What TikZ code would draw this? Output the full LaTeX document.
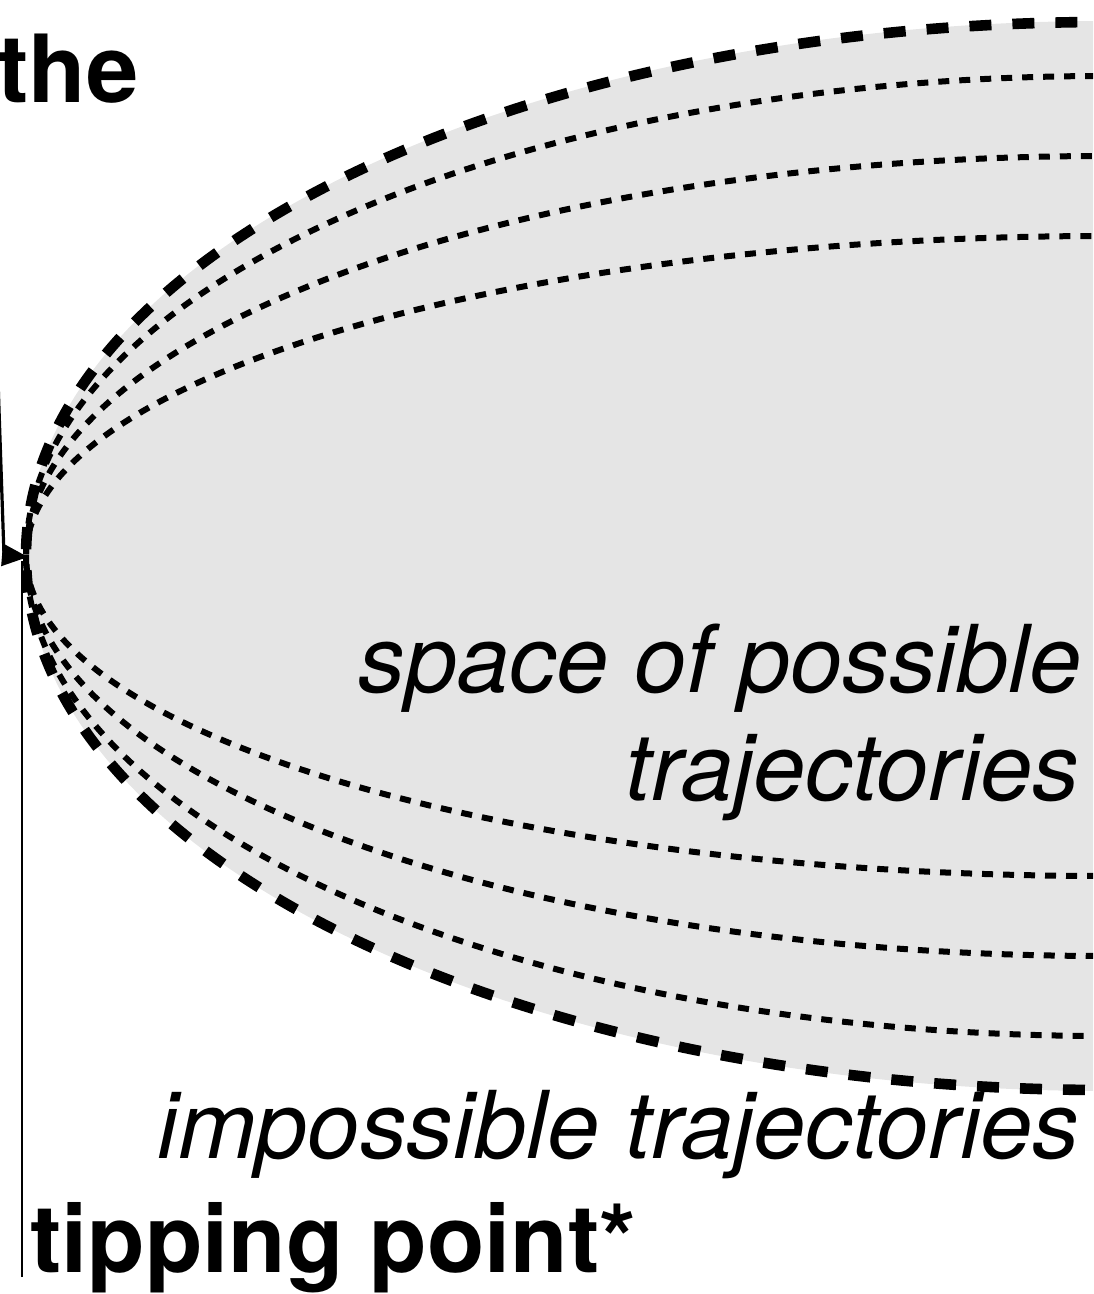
\documentclass[tikz,border=0pt]{standalone}
\usepackage{fontspec}
\setmainfont{TeX Gyre Heros}
\usetikzlibrary{arrows.meta}
\definecolor{spacegray}{RGB}{229,229,229}
\begin{document}
\begin{tikzpicture}[x=0.5pt,y=-0.5pt,
  thickdash/.style={line width=5.3pt, dash pattern=on 11pt off 10.5pt},
  thindash/.style={line width=3pt, dash pattern=on 5.5pt off 5pt},
  boldlabel/.style={font=\fontsize{47}{57}\selectfont\bfseries, inner sep=0pt},
  itlabel/.style={font=\fontsize{46.8}{56}\selectfont\itshape, inner sep=0pt},
  pointer/.style={line width=1.6pt, -{Triangle[length=13pt,width=11pt]}},
  plainline/.style={line width=1pt}]
\useasboundingbox (0,0) rectangle (1093,1294);
\clip (0,0) rectangle (1093,1294);
\coordinate (c) at (1106,556);
\fill[spacegray] (c) ellipse [x radius=540pt, y radius=267.5pt];
\draw[thickdash] (c) ellipse [x radius=540pt, y radius=267pt];
\foreach \r in {240,200,160} \draw[thindash] (c) ellipse [x radius=540pt, y radius=\r pt];
\coordinate (tip) at (28,557);
\coordinate (a0) at (-2,380);
\coordinate (a1) at (4,555);
\draw[pointer] (a0) -- (a1) -- (tip);
\coordinate (vb) at (22,1277);
\coordinate (vt) at (22,561);
\draw[plainline] (vb) -- (vt);
\node[boldlabel, anchor=base west] (the) at (-3,103) {the};
\node[boldlabel, anchor=base west] (tp) at (30,1272) {tipping point*};
\node[itlabel, anchor=base east] (imp) at (1080,1158) {impossible trajectories};
\node[itlabel, anchor=base east] (sp1) at (1082,692) {space of possible};
\node[itlabel, anchor=base east] (sp2) at (1080,800) {trajectories};
\end{tikzpicture}
\end{document}
